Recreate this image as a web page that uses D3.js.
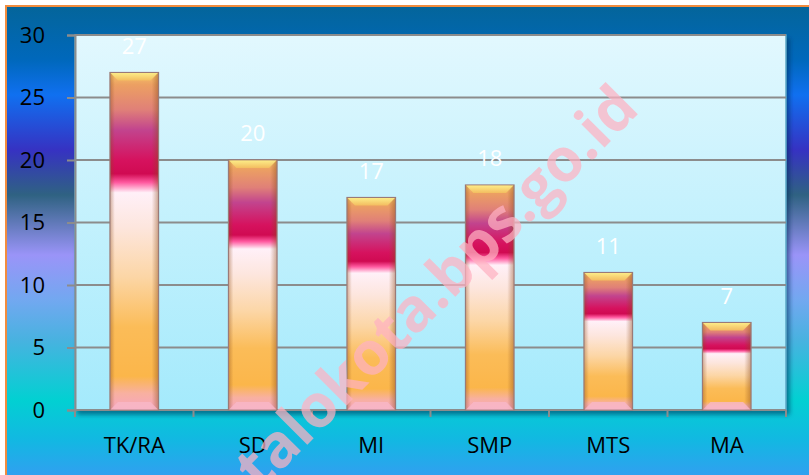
<!DOCTYPE html>
<html>
<head>
<meta charset="utf-8">
<script src="https://cdn.jsdelivr.net/npm/d3@7"></script>
<style>
  html, body { margin: 0; padding: 0; background: #fff; }
  svg { display: block; }
  text { font-family: "Open Sans", "Noto Sans", sans-serif; }
</style>
</head>
<body>
<svg id="chart"></svg>
<script>
// Chart values
const categories = ["TK/RA", "SD", "MI", "SMP", "MTS", "MA"]
const values = [27, 20, 17, 18, 11, 7]
const yTicks = [0, 5, 10, 15, 20, 25, 30]
const watermark = "gorontalokota.bps.go.id"

const WIDTH = 809
const HEIGHT = 475
const PLOT = { left: 75, right: 786, top: 35, bottom: 410 }

const svg = d3.select("#chart").attr("width", WIDTH).attr("height", HEIGHT)
const defs = svg.append("defs")

// outer background, vertical "ocean" style gradient
const bg = defs.append("linearGradient")
  .attr("id", "bg").attr("gradientUnits", "userSpaceOnUse")
  .attr("x1", 0).attr("y1", 6).attr("x2", 0).attr("y2", HEIGHT)
;[
  [6, "#04659a"], [60, "#0068bc"], [95, "#1070f0"], [150, "#3632c2"],
  [195, "#2f6282"], [255, "#9a94f8"], [300, "#72a8f0"], [340, "#48b2e0"],
  [400, "#02d0d2"], [440, "#12b8e2"], [475, "#30a0f0"]
].forEach(([y, c]) => {
  bg.append("stop").attr("offset", (y - 6) / (HEIGHT - 6)).attr("stop-color", c)
})

const plotBg = defs.append("linearGradient")
  .attr("id", "plotBg").attr("x1", 0).attr("y1", 0).attr("x2", 0).attr("y2", 1)
plotBg.append("stop").attr("offset", 0).attr("stop-color", "#e2f8fe")
plotBg.append("stop").attr("offset", 1).attr("stop-color", "#a4eafc")

// bar body gradient (relative to each bar)
const barGrad = defs.append("linearGradient")
  .attr("id", "barGrad").attr("x1", 0).attr("y1", 0).attr("x2", 0).attr("y2", 1)
;[
  [0, "#f6c66a"], [0.036, "#eca062"], [0.11, "#e08078"], [0.17, "#c2448e"],
  [0.26, "#d6125e"], [0.30, "#d00a52"], [0.326, "#ff5aa0"], [0.356, "#fff0f8"],
  [0.457, "#fde6de"], [0.605, "#fcd6a6"], [0.754, "#fbbc58"], [0.90, "#fbb64a"],
  [0.95, "#f8b0a0"], [1, "#f6a6c0"]
].forEach(([o, c]) => barGrad.append("stop").attr("offset", o).attr("stop-color", c))

// darker side edges
const sideGrad = defs.append("linearGradient")
  .attr("id", "sideGrad").attr("x1", 0).attr("y1", 0).attr("x2", 1).attr("y2", 0)
sideGrad.append("stop").attr("offset", 0).attr("stop-color", "#8a4a1a").attr("stop-opacity", 0.4)
sideGrad.append("stop").attr("offset", 0.1).attr("stop-color", "#8a4a1a").attr("stop-opacity", 0)
sideGrad.append("stop").attr("offset", 0.86).attr("stop-color", "#8a4a1a").attr("stop-opacity", 0)
sideGrad.append("stop").attr("offset", 1).attr("stop-color", "#8a4a1a").attr("stop-opacity", 0.45)

// top bevel highlight
const bevGrad = defs.append("linearGradient")
  .attr("id", "bevGrad").attr("x1", 0).attr("y1", 0).attr("x2", 0).attr("y2", 1)
bevGrad.append("stop").attr("offset", 0).attr("stop-color", "#fdf08a")
bevGrad.append("stop").attr("offset", 1).attr("stop-color", "#f4c060")

const shadow = defs.append("filter").attr("id", "shadow")
  .attr("x", "-5%").attr("y", "-5%").attr("width", "115%").attr("height", "115%")
shadow.append("feDropShadow").attr("dx", 3).attr("dy", 4).attr("stdDeviation", 2)
  .attr("flood-color", "#04305a").attr("flood-opacity", 0.55)

// frame
svg.append("rect")
  .attr("x", 6).attr("y", 6).attr("width", WIDTH + 10).attr("height", HEIGHT + 10)
  .attr("fill", "url(#bg)").attr("stroke", "#f28c3e").attr("stroke-width", 2)

// plot area
svg.append("rect")
  .attr("x", PLOT.left).attr("y", PLOT.top)
  .attr("width", PLOT.right - PLOT.left).attr("height", PLOT.bottom - PLOT.top)
  .attr("fill", "url(#plotBg)").attr("stroke", "#5aa6c6").attr("stroke-width", 1.5)
  .attr("filter", "url(#shadow)")

const x = d3.scaleBand().domain(categories).range([PLOT.left, PLOT.right]).padding(0)
const y = d3.scaleLinear().domain([0, 30]).range([PLOT.bottom, PLOT.top])

// gridlines
svg.append("g")
  .selectAll("line")
  .data(yTicks.filter((t) => t > 0))
  .join("line")
  .attr("x1", PLOT.left).attr("x2", PLOT.right)
  .attr("y1", (d) => y(d)).attr("y2", (d) => y(d))
  .attr("stroke", "#8c8c8c").attr("stroke-width", 2)

// y axis
const yAxis = svg.append("g")
  .attr("transform", `translate(${PLOT.left},0)`)
  .call(d3.axisLeft(y).tickValues(yTicks).tickSize(8).tickPadding(16))
yAxis.select(".domain").attr("stroke", "#8c8c8c").attr("stroke-width", 2)
yAxis.selectAll(".tick line").attr("stroke", "#8c8c8c").attr("stroke-width", 2)
yAxis.selectAll(".tick text")
  .attr("font-family", "Open Sans, sans-serif").attr("font-size", 22)
  .attr("fill", "#000").attr("dx", -6)

// x axis, ticks at band boundaries
const xAxis = svg.append("g").attr("transform", `translate(0,${PLOT.bottom})`)
xAxis.append("line")
  .attr("x1", PLOT.left).attr("x2", PLOT.right)
  .attr("stroke", "#8c8c8c").attr("stroke-width", 2)
const edges = categories.map((c) => x(c)).concat([PLOT.right])
xAxis.selectAll("line.edge")
  .data(edges)
  .join("line").attr("class", "edge")
  .attr("x1", (d) => d).attr("x2", (d) => d)
  .attr("y1", 0).attr("y2", 7)
  .attr("stroke", "#8c8c8c").attr("stroke-width", 2)
xAxis.selectAll("text")
  .data(categories)
  .join("text")
  .attr("x", (d) => x(d) + x.bandwidth() / 2)
  .attr("y", 43)
  .attr("text-anchor", "middle")
  .attr("font-size", 22)
  .attr("fill", "#000")
  .text((d) => d)

// bars
const barW = x.bandwidth() * 0.41
const bars = svg.append("g")
  .selectAll("g")
  .data(categories.map((c, i) => ({ cat: c, value: values[i] })))
  .join("g")
  .attr("transform", (d) => `translate(${x(d.cat) + (x.bandwidth() - barW) / 2},${y(d.value)})`)

bars.append("rect")
  .attr("width", barW)
  .attr("height", (d) => y(0) - y(d.value))
  .attr("fill", "url(#barGrad)")
bars.append("rect")
  .attr("width", barW)
  .attr("height", (d) => y(0) - y(d.value))
  .attr("fill", "url(#sideGrad)")
  .attr("stroke", "#9a7a78").attr("stroke-width", 1.2)

// top bevel
const bev = 8
bars.append("path")
  .attr("d", `M0.6,0.6 H${barW - 0.6} L${barW - bev},${bev} H${bev} Z`)
  .attr("fill", "url(#bevGrad)").attr("opacity", 0.9)
// bottom bevel
bars.append("path")
  .attr("d", (d) => {
    const h = y(0) - y(d.value)
    return `M0.6,${h - 0.6} H${barW - 0.6} L${barW - bev},${h - bev} H${bev} Z`
  })
  .attr("fill", "#f7b8c8").attr("opacity", 0.8)

// data labels
bars.append("text")
  .attr("x", barW / 2)
  .attr("y", -19)
  .attr("text-anchor", "middle")
  .attr("font-size", 22)
  .attr("fill", "#fff")
  .text((d) => d.value)

// watermark
svg.append("text")
  .attr("transform", "translate(641,111) rotate(-45)")
  .attr("text-anchor", "end")
  .attr("font-family", "Liberation Sans, Arial, sans-serif")
  .attr("font-weight", "bold")
  .attr("font-size", 60)
  .attr("fill", "rgb(255,178,194)")
  .attr("opacity", 0.72)
  .text(watermark)
</script>
</body>
</html>
